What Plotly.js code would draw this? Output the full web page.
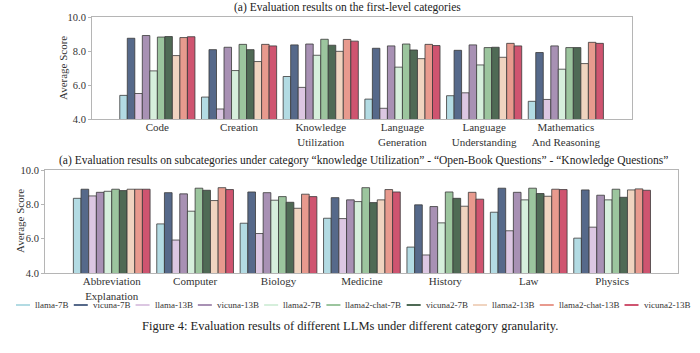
<!DOCTYPE html>
<html>
<head>
<meta charset="utf-8">
<script src="https://cdn.plot.ly/plotly-3.0.1.min.js"></script>
<style>html,body{margin:0;padding:0;background:#fff;}#chart{width:700px;height:353px;}</style>
</head>
<body>
<div id="chart"></div>
<script>
// ---- data ----
const models = ['llama-7B','vicuna-7B','llama-13B','vicuna-13B','llama2-7B','llama2-chat-7B','vicuna2-7B','llama2-13B','llama2-chat-13B','vicuna2-13B'];
const colors = ['#b3dbe3','#56698a','#dcc7e2','#a891b4','#d6efdc','#9cc59e','#4f6a55','#f0d4c0','#e89a8e','#cf5470'];

const topCategories = ['Code','Creation','Knowledge<br>Utilization','Language<br>Generation','Language<br>Understanding','Mathematics<br>And Reasoning'];
const topValues = [
  [5.39, 5.29, 6.50, 5.17, 5.37, 5.04],  // llama-7B
  [8.75, 8.08, 8.36, 8.16, 8.04, 7.91],  // vicuna-7B
  [5.50, 4.59, 5.86, 4.63, 5.54, 5.15],  // llama-13B
  [8.91, 8.22, 8.41, 8.30, 8.36, 8.30],  // vicuna-13B
  [6.83, 6.85, 7.75, 7.05, 7.18, 6.93],  // llama2-7B
  [8.82, 8.39, 8.69, 8.41, 8.20, 8.20],  // llama2-chat-7B
  [8.85, 8.08, 8.34, 8.06, 8.22, 8.20],  // vicuna2-7B
  [7.73, 7.38, 7.98, 7.55, 7.63, 7.26],  // llama2-13B
  [8.79, 8.39, 8.68, 8.39, 8.45, 8.51],  // llama2-chat-13B
  [8.84, 8.30, 8.58, 8.32, 8.30, 8.45]   // vicuna2-13B
];

const subCategories = ['Abbreviation<br>Explanation','Computer','Biology','Medicine','History','Law','Physics'];
const subValues = [
  [8.35, 6.86, 6.90, 7.19, 5.51, 7.54, 6.03],
  [8.88, 8.68, 8.72, 8.39, 7.97, 8.94, 8.84],
  [8.49, 5.92, 6.30, 7.17, 5.05, 6.46, 6.67],
  [8.70, 8.61, 8.68, 8.26, 7.87, 8.70, 8.53],
  [8.76, 7.60, 8.24, 8.16, 6.92, 8.26, 8.26],
  [8.88, 8.94, 8.45, 8.97, 8.72, 8.94, 8.88],
  [8.80, 8.82, 8.12, 8.10, 8.35, 8.63, 8.41],
  [8.88, 8.22, 7.77, 8.26, 7.89, 8.47, 8.84],
  [8.88, 8.97, 8.59, 8.86, 8.70, 8.88, 8.90],
  [8.88, 8.86, 8.45, 8.72, 8.30, 8.86, 8.82]
];

const yTicks = [4, 6, 8, 10];
const yTitle = 'Average Score';
const topTitle = '(a) Evaluation results on the first-level categories';
const subTitle = '(a) Evaluation results on subcategories under category \u201cknowledge Utilization\u201d - \u201cOpen-Book Questions\u201d - \u201cKnowledge Questions\u201d';
const caption = 'Figure 4: Evaluation results of different LLMs under different category granularity.';

// ---- build ----
const FONT = 'Liberation Serif';
const W = 700, H = 353;
const traces = [];
models.forEach((m, i) => {
  traces.push({type:'bar', name:m, x:topCategories, y:topValues[i], xaxis:'x', yaxis:'y',
    marker:{color:colors[i], line:{color:'#3a3a3a', width:0.8}}, showlegend:false});
  traces.push({type:'bar', name:m, x:subCategories, y:subValues[i], xaxis:'x2', yaxis:'y2',
    marker:{color:colors[i], line:{color:'#3a3a3a', width:0.8}}, showlegend:false});
});

function px2x(p){return p/W;}
function px2y(p){return 1 - p/H;}

const axisCommon = {showline:true, mirror:true, linecolor:'#b5b5b5', linewidth:1, showgrid:false, zeroline:false,
  tickfont:{family:FONT, size:11, color:'#333'}};
const xCommon = Object.assign({}, axisCommon, {ticks:'', ticklabelstandoff:-2, type:'category'});
const yCommon = Object.assign({}, axisCommon, {ticks:'outside', ticklen:3, tickcolor:'#b5b5b5', range:[4,10],
  tickvals:yTicks, tickformat:'.1f', tickfont:{family:FONT, size:10.5, color:'#333'}});

// legend built from annotations + shapes
const cv = document.createElement('canvas').getContext('2d');
const legFont = 9;
cv.font = legFont + 'px "Liberation Serif"';
const sw = 14, sg = 3;
const widths = models.map(m => sw + sg + cv.measureText(m).width);
const legL = 16, legR = 688;
const gap = (legR - legL - widths.reduce((a,b)=>a+b,0)) / (models.length - 1);
const legY = 305;
const shapes = [], annotations = [];
let cx = legL;
models.forEach((m, i) => {
  shapes.push({type:'line', xref:'paper', yref:'paper', x0:px2x(cx), x1:px2x(cx+sw), y0:px2y(legY), y1:px2y(legY),
    line:{color:colors[i], width:2}});
  annotations.push({xref:'paper', yref:'paper', x:px2x(cx+sw+sg), y:px2y(legY), xanchor:'left', yanchor:'middle',
    text:m, showarrow:false, font:{family:FONT, size:legFont, color:'#333'}});
  cx += widths[i] + gap;
});
annotations.push({xref:'paper', yref:'paper', x:px2x(347), y:px2y(8), xanchor:'center', yanchor:'middle', text:topTitle,
  showarrow:false, font:{family:FONT, size:11.5, color:'#222'}});
annotations.push({xref:'paper', yref:'paper', x:px2x(363), y:px2y(160), xanchor:'center', yanchor:'middle', text:subTitle,
  showarrow:false, font:{family:FONT, size:11.5, color:'#222'}});
annotations.push({xref:'paper', yref:'paper', x:0.5, y:px2y(326), xanchor:'center', yanchor:'middle', text:caption,
  showarrow:false, font:{family:FONT, size:12.5, color:'#222'}});
annotations.push({xref:'paper', yref:'paper', x:px2x(63), y:px2y(68), xanchor:'center', yanchor:'middle', text:yTitle,
  textangle:-90, showarrow:false, font:{family:FONT, size:11, color:'#333'}});
annotations.push({xref:'paper', yref:'paper', x:px2x(20), y:px2y(221), xanchor:'center', yanchor:'middle', text:yTitle,
  textangle:-90, showarrow:false, font:{family:FONT, size:11, color:'#333'}});

const layout = {
  width:W, height:H, margin:{l:0,r:0,t:0,b:0}, paper_bgcolor:'#fff', plot_bgcolor:'#fff',
  barmode:'group', bargap:0.08, bargroupgap:0, showlegend:false,
  font:{family:FONT, color:'#333'},
  xaxis:Object.assign({}, xCommon, {domain:[px2x(92), px2x(632)], anchor:'y', range:[-0.80, 5.81]}),
  yaxis:Object.assign({}, yCommon, {domain:[px2y(119), px2y(17)], anchor:'x'}),
  xaxis2:Object.assign({}, xCommon, {domain:[px2x(45), px2x(678)], anchor:'y2', range:[-0.80, 6.79]}),
  yaxis2:Object.assign({}, yCommon, {domain:[px2y(273), px2y(170)], anchor:'x2'}),
  shapes:shapes, annotations:annotations
};

Plotly.newPlot('chart', traces, layout, {staticPlot:true, displayModeBar:false});
</script>
</body>
</html>
